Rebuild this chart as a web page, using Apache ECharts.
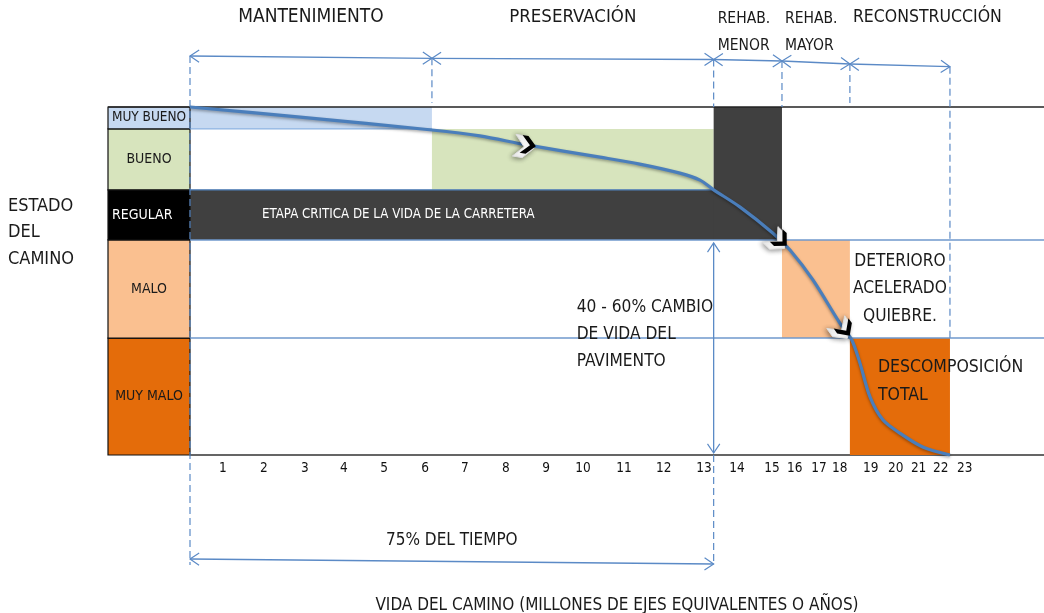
<!DOCTYPE html>
<html><head><meta charset="utf-8">
<script src="https://cdn.jsdelivr.net/npm/echarts@6/dist/echarts.min.js"></script>
<style>html,body{margin:0;padding:0;background:#fff}#c{width:1044px;height:613px}</style>
</head><body><div id="c"></div>
<script>
// ---------------- DATA ----------------
// Road condition states (bottom -> top) and their boundaries on a 0-100 condition scale
const states = ['MUY MALO', 'MALO', 'REGULAR', 'BUENO', 'MUY BUENO'];
const stateBounds = [0, 33.6, 61.8, 76.2, 93.7, 100];
// Intervention phases and their boundaries along the road-life axis
const phases = ['MANTENIMIENTO', 'PRESERVACIÓN', 'REHAB.\nMENOR', 'REHAB.\nMAYOR', 'RECONSTRUCCIÓN'];
const phaseBounds = [0, 6.02, 13.03, 14.73, 16.42, 18.91];
// Tick labels of the life axis and where they sit on it
const tickLabels = ['1','2','3','4','5','6','7','8','9','10','11','12','13','14','15','16','17','18','19','20','21','22','23'];
const tickPos = [0.82,1.84,2.86,3.83,4.83,5.85,6.84,7.86,8.86,9.78,10.80,11.79,12.79,13.61,14.48,15.05,15.65,16.17,16.94,17.56,18.13,18.68,19.28];
// Deterioration curve (life, condition)
const curveLife = [0, 2.74, 6.02, 7.21, 8.38, 10.20, 11.19, 12.19, 12.69, 13.03, 13.68, 14.50, 14.93, 15.50, 16.17, 16.47, 16.67, 16.92, 17.24, 17.66, 18.23, 18.91];
const curveCond = [100, 97.1, 93.4, 91.7, 89.1, 85.6, 83.6, 81.0, 79.0, 76.2, 71.3, 63.8, 58.9, 50.3, 37.9, 33.0, 26.4, 16.7, 10.1, 6.3, 2.3, 0];
// Chevron markers along the curve (life value)
const chevronAt = [8.41, 14.70, 16.29];
const xMax = 21.25;

// ---------------- STYLE ----------------
const F = '"Liberation Sans Narrow","Arial Narrow","DejaVu Sans Condensed",sans-serif';
const TXT = '#1a1a1a';
const BLUE = '#4f81bd';
const stateFill = ['#e46c0a', '#fac090', '#000000', '#d7e4bd', '#c6d9f1'];
const zones = [
  {p:[0,1], s:[4,5], fill:'#c6d9f1'},
  {p:[1,2], s:[3,4], fill:'#d7e4bd'},
  {p:[0,3], s:[2,3], fill:'#404040'},
  {p:[2,3], s:[2,5], fill:'#404040'},
  {p:[3,4], s:[1,2], fill:'#fac090'},
  {p:[4,5], s:[0,1], fill:'#e46c0a'}
];

function font(sz){ return sz + 'px ' + F; }
function seg(a, b, color, w, dash){
  return {type:'line', shape:{x1:a[0],y1:a[1],x2:b[0],y2:b[1]}, style:{stroke:color, lineWidth:w||1, lineDash:dash||null}};
}
function head(p, q, color){ // arrowhead at p, coming from q
  const dx=p[0]-q[0], dy=p[1]-q[1], L=Math.hypot(dx,dy), ux=dx/L, uy=dy/L;
  const a=34*Math.PI/180, c=Math.cos(a), s=Math.sin(a), len=11;
  const b1=[p[0]-len*(ux*c-uy*s), p[1]-len*(uy*c+ux*s)];
  const b2=[p[0]-len*(ux*c+uy*s), p[1]-len*(uy*c-ux*s)];
  return {type:'polyline', shape:{points:[b1,p,b2]}, style:{stroke:color, lineWidth:1.2, fill:null}};
}
function dbl(a, b, color){ return [seg(a,b,color,1.3), head(a,b,color), head(b,a,color)]; }
function txt(x, y, text, sz, opt){
  opt = opt || {};
  return {type:'text', x:x, y:y, style:Object.assign({text:text, fill:TXT, font:font(sz), align:'center', verticalAlign:'middle'}, opt)};
}
function curveAt(u){
  for (let i=0;i<curveLife.length-1;i++){
    if (u>=curveLife[i] && u<=curveLife[i+1]){
      const t=(u-curveLife[i])/(curveLife[i+1]-curveLife[i]);
      return {v: curveCond[i]+t*(curveCond[i+1]-curveCond[i]), i:i};
    }
  }
  return {v:0,i:curveLife.length-2};
}

const chart = echarts.init(document.getElementById('c'), null, {renderer:'canvas'});

const option = {
  animation:false,
  backgroundColor:'#fff',
  grid:[
    {left:190, right:0, top:107, bottom:158, containLabel:false, outerBoundsMode:'none'},
    {left:108, width:82, top:107, bottom:158, containLabel:false, outerBoundsMode:'none'}
  ],
  xAxis:[
    {type:'value', gridIndex:0, min:0, max:xMax,
     name:'VIDA DEL CAMINO (MILLONES DE EJES EQUIVALENTES O AÑOS)', nameLocation:'middle', nameGap:142,
     nameTextStyle:{fontFamily:F, fontSize:17, color:TXT},
     splitLine:{show:false}, axisTick:{show:false},
     axisLine:{lineStyle:{color:'#333', width:1.5}},
     axisLabel:{customValues:tickPos, fontFamily:F, fontSize:13.5, color:'#111', margin:6,
       formatter:function(v){ let bi=0; for(let i=0;i<tickPos.length;i++){ if(Math.abs(tickPos[i]-v)<Math.abs(tickPos[bi]-v)) bi=i; } return tickLabels[bi]; }}},
    {type:'value', gridIndex:1, min:0, max:1, show:false}
  ],
  yAxis:[
    {type:'value', gridIndex:0, min:0, max:100, show:false},
    {type:'value', gridIndex:1, min:0, max:100, show:false}
  ],
  graphic:[
    {type:'text', left:8, top:193, style:{text:'ESTADO\nDEL\nCAMINO', font:font(18), fill:TXT, lineHeight:26.5}}
  ],
  series:[
    // state label column
    {type:'custom', xAxisIndex:1, yAxisIndex:1, data:[0], silent:true, z:2,
     renderItem:function(params, api){
       const ch=[];
       for (let i=0;i<states.length;i++){
         const a=api.coord([0, stateBounds[i+1]]), b=api.coord([1, stateBounds[i]]);
         ch.push({type:'rect', shape:{x:a[0],y:a[1],width:b[0]-a[0],height:b[1]-a[1]}, style:{fill:stateFill[i], stroke:'#111', lineWidth:1.2}});
         if (states[i]==='REGULAR') {
           ch.push(txt(a[0]+4, (a[1]+b[1])/2, states[i], 14, {fill:'#fff', align:'left'}));
         } else {
           ch.push(txt((a[0]+b[0])/2, (a[1]+b[1])/2, states[i], states[i]==='MUY BUENO' ? 13.5 : 14));
         }
       }
       return {type:'group', children:ch};
     }},
    // zones
    {type:'custom', xAxisIndex:0, yAxisIndex:0, data:[0], silent:true, z:1, clip:false,
     renderItem:function(params, api){
       const ch=[];
       zones.forEach(function(z){
         const a=api.coord([phaseBounds[z.p[0]], stateBounds[z.s[1]]]), b=api.coord([phaseBounds[z.p[1]], stateBounds[z.s[0]]]);
         ch.push({type:'rect', shape:{x:a[0],y:a[1],width:b[0]-a[0],height:b[1]-a[1]}, style:{fill:z.fill}});
       });
       return {type:'group', children:ch};
     }},
    // decorations: lines, arrows, text
    {type:'custom', xAxisIndex:0, yAxisIndex:0, data:[0], silent:true, z:3, clip:false,
     renderItem:function(params, api){
       const ch=[];
       const c=function(u,v){ return api.coord([u,v]); };
       const T=c(0,100)[1], B=c(0,0)[1];
       const X=phaseBounds.map(function(u){ return c(u,0)[0]; });
       const xR=c(xMax,0)[0];
       // frame top
       ch.push(seg([108,T],[xR,T],'#222',1.5));
       // horizontal blue lines
       ch.push(seg([X[0],c(0,stateBounds[4])[1]],[X[1],c(0,stateBounds[4])[1]],'#8db3e2',1.2));
       ch.push(seg([X[0],c(0,stateBounds[3])[1]],[X[2],c(0,stateBounds[3])[1]],BLUE,1.2));
       ch.push(seg([X[0],c(0,stateBounds[2])[1]],[xR,c(0,stateBounds[2])[1]],'#6f98cc',1.5));
       ch.push(seg([X[0],c(0,stateBounds[1])[1]],[xR,c(0,stateBounds[1])[1]],'#6f98cc',1.5));
       // top phase arrows
       const rise=[51,48.7,47.5,46,43,40.3];
       const ay=rise.map(function(r){ return T-r; });
       for (let i=0;i<phases.length;i++){
         dbl([X[i],ay[i]],[X[i+1],ay[i+1]],'#5b8ac6').forEach(function(e){ ch.push(e); });
       }
       // dashed verticals
       const dash=[7,4];
       const DB='#5b8ac6';
       ch.push(seg([X[0],ay[0]],[X[0],B+110],DB,1.2,dash));
       ch.push(seg([X[1],ay[1]],[X[1],T-4],DB,1.2,dash));
       ch.push(seg([X[2],ay[2]],[X[2],T],DB,1.2,dash));
       ch.push(seg([X[3],ay[3]],[X[3],T],DB,1.2,dash));
       ch.push(seg([X[4],ay[4]],[X[4],T-4],DB,1.2,dash));
       ch.push(seg([X[5],ay[5]],[X[5],c(0,stateBounds[1])[1]],DB,1.2,dash));
       ch.push(seg([X[2],B],[X[2],B+110],DB,1.2,dash));
       // vertical double arrow (40-60% change of pavement life)
       dbl([X[2],c(0,stateBounds[2])[1]+3],[X[2],B-2],'#5b8ac6').forEach(function(e){ ch.push(e); });
       // 75% time arrow
       dbl([X[0],B+104],[X[2],B+109],'#5b8ac6').forEach(function(e){ ch.push(e); });
       // phase labels
       ch.push(txt((X[0]+X[1])/2, T-90, phases[0], 19));
       ch.push(txt((X[1]+X[2])/2, T-90, phases[1], 18.5));
       ch.push(txt(X[2]+4, T-75, phases[2], 15.5, {align:'left', lineHeight:27}));
       ch.push(txt(X[3]+3, T-75, phases[3], 15.5, {align:'left', lineHeight:27}));
       ch.push(txt(X[4]+3, T-90, phases[4], 17.5, {align:'left'}));
       // in-plot texts
       const yReg=(c(0,stateBounds[2])[1]+c(0,stateBounds[3])[1])/2;
       ch.push(txt(X[0]+72, yReg, 'ETAPA CRITICA DE LA VIDA DE LA CARRETERA', 13.2, {align:'left', fill:'#fff'}));
       ch.push(txt(X[2]-137, B-120, '40 - 60% CAMBIO\nDE VIDA DEL\nPAVIMENTO', 17.2, {align:'left', lineHeight:27}));
       const yMalo=(c(0,stateBounds[1])[1]+c(0,stateBounds[2])[1])/2;
       ch.push(txt((X[4]+X[5])/2, yMalo, 'DETERIORO\nACELERADO\nQUIEBRE.', 17.2, {lineHeight:27.5}));
       ch.push(txt(X[4]+28, B-74, 'DESCOMPOSICIÓN\nTOTAL', 17.5, {align:'left', lineHeight:28}));
       ch.push(txt((X[0]+X[2])/2, B+86, '75% DEL TIEMPO', 17));
       return {type:'group', children:ch};
     }},
    // deterioration curve
    {type:'line', xAxisIndex:0, yAxisIndex:0, z:5, clip:false, symbol:'none', smooth:0.3,
     data:curveLife.map(function(u,i){ return [u, curveCond[i]]; }),
     lineStyle:{color:'#4a7ebb', width:3.2, shadowColor:'rgba(0,0,0,0.35)', shadowBlur:3, shadowOffsetY:1.5}},
    // chevrons
    {type:'custom', xAxisIndex:0, yAxisIndex:0, data:chevronAt, silent:true, z:6, clip:false,
     renderItem:function(params, api){
       const u=api.value(0);
       const r=curveAt(u);
       const p=api.coord([u, r.v]);
       const p0=api.coord([curveLife[r.i], curveCond[r.i]]), p1=api.coord([curveLife[r.i+1], curveCond[r.i+1]]);
       const dx=p1[0]-p0[0], dy=p1[1]-p0[1], L=Math.hypot(dx,dy), ux=dx/L, uy=dy/L;
       const tr=function(loc, ox, oy){ return loc.map(function(q){ return [p[0]+ox+q[0]*ux-q[1]*uy, p[1]+oy+q[0]*uy+q[1]*ux]; }); };
       const back=[[-12,-11],[-2,-11],[8,0],[-2,11],[-12,11],[-2,0]];
       const fore=[[-8,-9],[-2,-9],[7,0],[-2,9],[-8,9],[1,0]];
       return {type:'group', children:[
         {type:'polygon', shape:{points:tr(back,-2,2)}, style:{fill:'#fff', stroke:'#ddd', lineWidth:1, shadowBlur:5, shadowColor:'rgba(0,0,0,0.45)', shadowOffsetX:-1, shadowOffsetY:1}},
         {type:'polygon', shape:{points:tr(fore,1,0)}, style:{fill:'#000'}}
       ]};
     }}
  ]
};
chart.setOption(option);
</script>
</body></html>
